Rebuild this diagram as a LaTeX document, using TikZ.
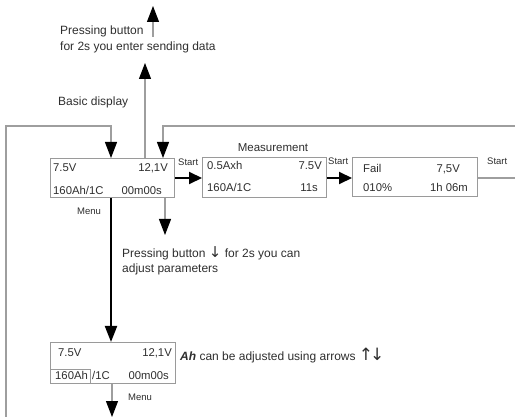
\documentclass[tikz,border=0pt]{standalone}
\usepackage{fontspec}
\setmainfont{Liberation Sans}
\newfontfamily\arrowfont{DejaVu Sans}
\usetikzlibrary{arrows.meta}
\definecolor{txt}{HTML}{2E2E2E}
\definecolor{ln}{HTML}{9E9E9E}
\definecolor{bx}{HTML}{9A9A9A}
\begin{document}
\begin{tikzpicture}[x=1pt,y=-1pt,
  lbl/.style={inner sep=0pt, anchor=base west, text=txt, font=\fontsize{12}{14}\selectfont},
  smalllbl/.style={inner sep=0pt, anchor=base west, text=txt, font=\fontsize{9.5}{11}\selectfont},
  bt/.style={inner sep=0pt, anchor=base west, text=txt, font=\fontsize{11.3}{13}\selectfont},
  btr/.style={bt, anchor=base east},
  panel/.style={draw=bx, line width=0.9pt, inner sep=0pt, anchor=north west},
  thinln/.style={draw=ln, line width=1.1pt},
  thickln/.style={draw=black, line width=2pt},
  vhead/.style={-{Triangle[width=12pt,length=16pt,color=black]}},
  hhead/.style={-{Triangle[width=12pt,length=13pt,color=black]}}
]
\useasboundingbox (0,0) rectangle (515,417);

% panels
\node[panel, minimum width=124pt, minimum height=39pt] (b1) at (50,158) {};
\node[panel, minimum width=124pt, minimum height=40pt] (b2) at (202,157) {};
\node[panel, minimum width=125pt, minimum height=39pt] (b3) at (352,157) {};
\node[panel, minimum width=125pt, minimum height=41pt] (b4) at (50,342) {};
\node[panel, minimum width=40pt, minimum height=14pt] (b4in) at (50,369) {};

% panel texts
\node[bt] (t11) at (53,172) {7.5V};
\node[btr] (t12) at (168,172) {12,1V};
\node[bt] (t13) at (53,194.5) {160Ah/1C};
\node[btr] (t14) at (162,194.5) {00m00s};

\node[bt] (t21) at (207,170) {0.5Axh};
\node[btr] (t22) at (322,170) {7.5V};
\node[bt] (t23) at (207,192) {160A/1C};
\node[btr] (t24) at (318,192) {11s};

\node[bt] (t31) at (363,173) {Fail};
\node[btr] (t32) at (460,173) {7,5V};
\node[bt] (t33) at (363,191.5) {010\%};
\node[btr] (t34) at (468,191.5) {1h 06m};

\node[bt] (t41) at (58,356.5) {7.5V};
\node[btr] (t42) at (172,356.5) {12,1V};
\node[bt] (t43) at (55,380) {160Ah};
\node[bt] (t44) at (92,380) {/1C};
\node[btr] (t45) at (169,380) {00m00s};

% labels
\node[lbl] (p1) at (60,35) {Pressing button};
\node[lbl] (p2) at (60,51) {for 2s you enter sending data};
\node[lbl] (bd) at (58,106) {Basic display};
\node[lbl, anchor=base, font=\fontsize{11.5}{13}\selectfont] (ms) at (273,151.5) {Measurement};
\node[smalllbl] (s1) at (178,166) {Start};
\node[smalllbl] (s2) at (328,165) {Start};
\node[smalllbl] (s3) at (487,165) {Start};
\node[smalllbl] (m1) at (77,215) {Menu};
\node[smalllbl] (m2) at (128,400) {Menu};
\node[lbl] (q1) at (122,258) {Pressing button {\arrowfont\fontsize{15}{16}\selectfont ↓} for 2s you can};
\node[lbl] (q2) at (122,273) {adjust parameters};
\node[lbl] (ah) at (180,360) {\textbf{\textit{Ah}} can be adjusted using arrows {\arrowfont\fontsize{17}{18}\selectfont ↑\kern-3pt↓}};

% coordinates
\coordinate (top1s) at (153,37);
\coordinate (top1e) at (153,6);
\coordinate (up2) at (145,63);
\coordinate (lb) at (6,417);
\coordinate (lt) at (6,126);
\coordinate (l1) at (111,126);
\coordinate (rr) at (515,126);
\coordinate (r1) at (163,126);
\coordinate (dn1) at (165,235);
\coordinate (b3out) at (515,178);
\coordinate (b4dn) at (112,417);

% connectors
\draw[thinln, vhead] (top1s) -- (top1e);
\draw[thinln, vhead] (b1.north -| up2) -- (up2);
\draw[thinln, vhead] (lb) -- (lt) -- (l1) -- (l1 |- b1.north);
\draw[thinln, vhead] (rr) -- (r1) -- (r1 |- b1.north);
\draw[thinln, vhead] (b1.south -| dn1) -- (dn1);
\draw[thickln, hhead] (b1.east |- b3out) -- (b2.west |- b3out);
\draw[thickln, hhead] (b2.east |- b3out) -- (b3.west |- b3out);
\draw[thinln] (b3.east |- b3out) -- (b3out);
\draw[thickln, vhead] (b1.south -| l1) -- (b4.north -| l1);
\draw[thinln, vhead] (b4.south -| b4dn) -- (b4dn);
\end{tikzpicture}
\end{document}
